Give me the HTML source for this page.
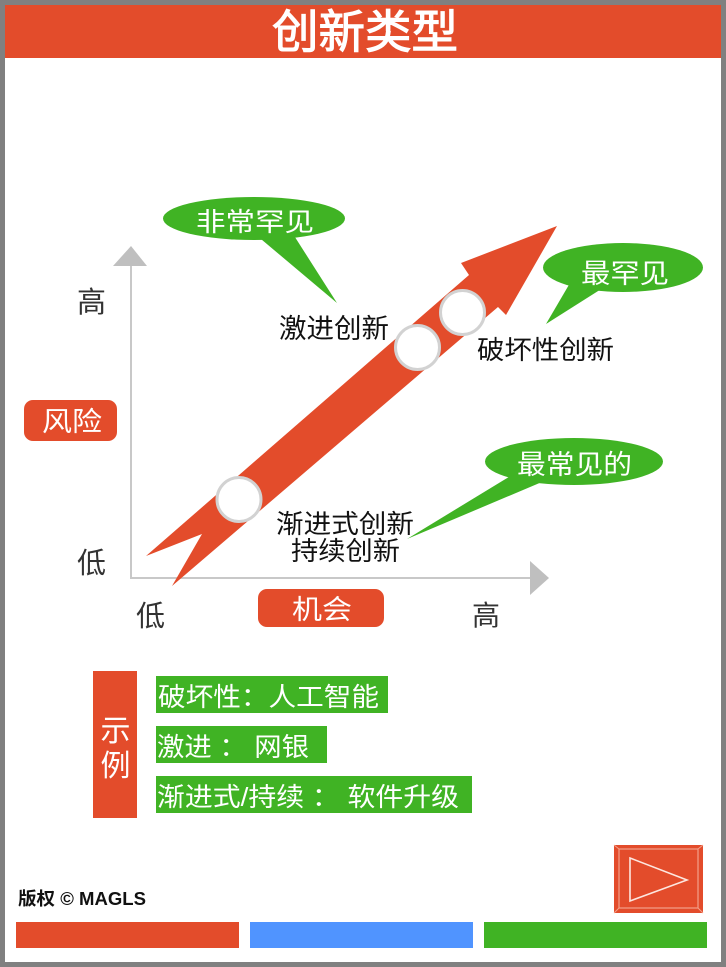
<!DOCTYPE html>
<html>
<head>
<meta charset="utf-8">
<style>
html,body{margin:0;padding:0;background:#808080;}
body{width:726px;height:967px;overflow:hidden;}
svg{display:block;}
text{font-family:"Liberation Sans","Noto Sans CJK SC",sans-serif;}
</style>
</head>
<body>
<svg width="726" height="967" viewBox="0 0 726 967" xmlns="http://www.w3.org/2000/svg">
  <!-- frame -->
  <rect x="0" y="0" width="726" height="967" fill="#808080"/>
  <rect x="5" y="5" width="716" height="957" fill="#ffffff"/>
  <!-- header -->
  <rect x="5" y="5" width="716" height="53" fill="#E34C2B"/>
  <text x="272" y="48" font-size="46" fill="#ffffff" stroke="#ffffff" stroke-width="1.1" textLength="186" lengthAdjust="spacingAndGlyphs">创新类型</text>

  <!-- axes -->
  <line x1="131" y1="262" x2="131" y2="578" stroke="#c8c8c8" stroke-width="2"/>
  <polygon points="113,266 147,266 131,246" fill="#bfbfbf"/>
  <line x1="130" y1="578" x2="532" y2="578" stroke="#c8c8c8" stroke-width="2"/>
  <polygon points="530,561 530,595 549,578" fill="#bfbfbf"/>

  <!-- big arrow -->
  <polygon points="146,556 469,275 461,263 557,226 506,315 498,307 172,586 202,534" fill="#E34C2B"/>

  <!-- circles -->
  <circle cx="239" cy="499.5" r="22" fill="#ffffff" stroke="#d2d2d2" stroke-width="3"/>
  <circle cx="417.5" cy="347.5" r="22" fill="#ffffff" stroke="#d2d2d2" stroke-width="3"/>
  <circle cx="462.5" cy="312.5" r="22" fill="#ffffff" stroke="#d2d2d2" stroke-width="3"/>

  <!-- bubble 1 -->
  <ellipse cx="254" cy="218.5" rx="91" ry="21.5" fill="#40B324"/>
  <polygon points="255,234 293,234 337,303" fill="#40B324"/>
  <text x="196" y="231" font-size="26" fill="#ffffff" textLength="118" lengthAdjust="spacingAndGlyphs">非常罕见</text>

  <!-- bubble 2 -->
  <ellipse cx="623" cy="267.5" rx="80" ry="24.5" fill="#40B324"/>
  <polygon points="570,283 606,286 546,324" fill="#40B324"/>
  <text x="581" y="283" font-size="27" fill="#ffffff" textLength="88" lengthAdjust="spacingAndGlyphs">最罕见</text>

  <!-- bubble 3 -->
  <ellipse cx="574" cy="461.5" rx="89" ry="23.5" fill="#40B324"/>
  <polygon points="512,475 549,479 407,539" fill="#40B324"/>
  <text x="517" y="474" font-size="27" fill="#ffffff" textLength="115" lengthAdjust="spacingAndGlyphs">最常见的</text>

  <!-- labels -->
  <text x="279" y="338" font-size="27" fill="#111111" textLength="110" lengthAdjust="spacingAndGlyphs">激进创新</text>
  <text x="477" y="359" font-size="26" fill="#111111" textLength="137" lengthAdjust="spacingAndGlyphs">破坏性创新</text>
  <text x="276" y="533" font-size="26" fill="#111111" textLength="138" lengthAdjust="spacingAndGlyphs">渐进式创新</text>
  <text x="291" y="560" font-size="26" fill="#111111" textLength="109" lengthAdjust="spacingAndGlyphs">持续创新</text>

  <text x="77" y="312" font-size="29" fill="#333333">高</text>
  <text x="77" y="573" font-size="29" fill="#333333">低</text>
  <text x="136" y="626" font-size="29" fill="#333333">低</text>
  <text x="472" y="625" font-size="28" fill="#333333">高</text>

  <!-- 风险 box -->
  <rect x="24" y="400" width="93" height="41" rx="9" fill="#E34C2B"/>
  <text x="42" y="431" font-size="27" fill="#ffffff" textLength="60" lengthAdjust="spacingAndGlyphs">风险</text>

  <!-- 机会 box -->
  <rect x="258" y="589" width="126" height="38" rx="9" fill="#E34C2B"/>
  <text x="292" y="619" font-size="27" fill="#ffffff" textLength="60" lengthAdjust="spacingAndGlyphs">机会</text>

  <!-- examples -->
  <rect x="93" y="671" width="44" height="147" fill="#E34C2B"/>
  <text x="115.5" y="741" font-size="30" fill="#ffffff" text-anchor="middle">示</text>
  <text x="115.5" y="776" font-size="30" fill="#ffffff" text-anchor="middle">例</text>

  <rect x="156" y="676" width="232" height="37" fill="#40B324"/>
  <text x="158" y="706" font-size="26" fill="#ffffff" textLength="221" lengthAdjust="spacingAndGlyphs">破坏性：人工智能</text>

  <rect x="156" y="726" width="171" height="37" fill="#40B324"/>
  <text x="157" y="756" font-size="26" fill="#ffffff" textLength="152" lengthAdjust="spacingAndGlyphs">激进 ： 网银</text>

  <rect x="156" y="776" width="316" height="37" fill="#40B324"/>
  <text x="157" y="806" font-size="26" fill="#ffffff" textLength="302" lengthAdjust="spacingAndGlyphs">渐进式/持续 ： 软件升级</text>

  <!-- copyright -->
  <text x="18" y="905" font-size="18" font-weight="bold" fill="#111111" textLength="128" lengthAdjust="spacingAndGlyphs">版权 © MAGLS</text>

  <!-- play button -->
  <rect x="614" y="845" width="89" height="68" fill="#E34C2B"/>
  <rect x="619" y="849" width="79" height="59" fill="none" stroke="#f3a08a" stroke-width="1.2"/>
  <line x1="614" y1="845" x2="619" y2="849" stroke="#f3a08a" stroke-width="1"/>
  <line x1="703" y1="845" x2="698" y2="849" stroke="#f3a08a" stroke-width="1"/>
  <line x1="614" y1="913" x2="619" y2="908" stroke="#f3a08a" stroke-width="1"/>
  <line x1="703" y1="913" x2="698" y2="908" stroke="#f3a08a" stroke-width="1"/>
  <polygon points="630,858 687,880 630,901" fill="none" stroke="#fde6df" stroke-width="1.6"/>

  <!-- bottom bars -->
  <rect x="16" y="922" width="223" height="26" fill="#E34C2B"/>
  <rect x="250" y="922" width="223" height="26" fill="#5094FF"/>
  <rect x="484" y="922" width="223" height="26" fill="#40B324"/>
</svg>
</body>
</html>
